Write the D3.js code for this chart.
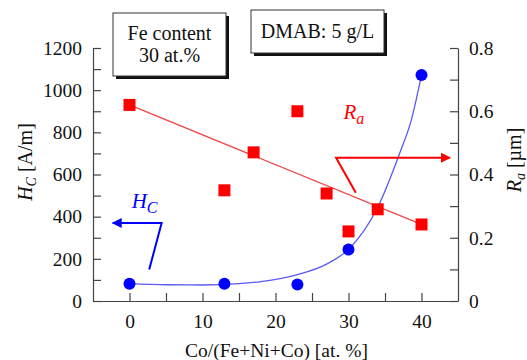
<!DOCTYPE html>
<html>
<head>
<meta charset="utf-8">
<script src="https://cdn.jsdelivr.net/npm/d3@7"></script>
<style>
  body { margin: 0; background: #fff; }
</style>
</head>
<body>
<div id="chart"></div>
<script>
// data
var hcX = [0, 13, 23, 30, 40];
var hcY = [82, 82, 78, 244, 1072];
var raX = [0, 13, 17, 23, 27, 30, 34, 40];
var raY = [0.62, 0.35, 0.47, 0.60, 0.34, 0.22, 0.29, 0.242];
// fitted curves as drawn
var hcFitX = [0, 5, 10, 15, 18, 23, 27, 30, 34, 37, 38.6, 40];
var hcFitY = [82, 77, 76, 82, 92, 125, 175, 245, 445, 700, 858, 1072];
var raFitX = [0, 40];
var raFitY = [0.62, 0.242];
var xTicks = [0, 10, 20, 30, 40];
var yLeftTicks = [0, 200, 400, 600, 800, 1000, 1200];
var yRightTicks = [0, 0.2, 0.4, 0.6, 0.8];

var serif = "'Liberation Serif'";

var svgWidth = 527;
var svgHeight = 360;
var margin = { top: 48, right: 69, bottom: 59, left: 93 };
var width = svgWidth - margin.left - margin.right;
var height = svgHeight - margin.top - margin.bottom;

var svg = d3.select("#chart").append("svg")
  .attr("width", svgWidth)
  .attr("height", svgHeight);

var g = svg.append("g")
  .attr("transform", `translate(${margin.left}, ${margin.top})`);

var x = d3.scaleLinear().domain([-5, 45]).range([0, width]);
var yL = d3.scaleLinear().domain([0, 1200]).range([height, 0]);
var yR = d3.scaleLinear().domain([0, 0.8]).range([height, 0]);

var axisColor = "#444";

// axes with inward ticks
function styleAxis(sel) {
  sel.select(".domain").attr("stroke", axisColor).attr("stroke-width", 1.2);
  sel.selectAll(".tick line").attr("stroke", axisColor).attr("stroke-width", 1.2);
  sel.selectAll(".tick text").style("font-size", "19.5px").attr("fill", "#111");
}

var xAxis = g.append("g")
  .attr("transform", `translate(0, ${height})`)
  .call(d3.axisBottom(x).tickValues(d3.range(-5, 46, 5)).tickSizeInner(-8).tickSizeOuter(0)
    .tickPadding(13).tickFormat(d => xTicks.indexOf(d) >= 0 ? d : ""));
styleAxis(xAxis);
xAxis.selectAll(".tick").filter(d => d === -5 || d === 45).remove();

var leftAxis = g.append("g")
  .call(d3.axisLeft(yL).tickValues(d3.range(0, 1201, 100)).tickSizeInner(-8).tickSizeOuter(0)
    .tickPadding(11).tickFormat(d => yLeftTicks.indexOf(d) >= 0 ? d : ""));
styleAxis(leftAxis);

var rightAxis = g.append("g")
  .attr("transform", `translate(${width}, 0)`)
  .call(d3.axisRight(yR).tickValues(d3.range(0, 9).map(i => i / 10)).tickSizeInner(-8).tickSizeOuter(0)
    .tickPadding(11).tickFormat(d => yRightTicks.some(v => Math.abs(v - d) < 1e-9) ? (d === 0 ? "0" : d3.format(".1f")(d)) : ""));
styleAxis(rightAxis);

// fitted lines
var hcFit = hcFitX.map((d, i) => [d, hcFitY[i]]);
g.append("path")
  .datum(hcFit)
  .attr("fill", "none")
  .attr("stroke", "#5a5af5")
  .attr("stroke-width", 1.3)
  .attr("d", d3.line().x(d => x(d[0])).y(d => yL(d[1])).curve(d3.curveMonotoneX));

var raFit = raFitX.map((d, i) => [d, raFitY[i]]);
g.append("path")
  .datum(raFit)
  .attr("fill", "none")
  .attr("stroke", "#f04545")
  .attr("stroke-width", 1.3)
  .attr("d", d3.line().x(d => x(d[0])).y(d => yR(d[1])));

// markers
g.selectAll("rect.ra")
  .data(raX.map((d, i) => ({ x: d, y: raY[i] })))
  .enter().append("rect")
  .attr("class", "ra")
  .attr("x", d => x(d.x) - 6)
  .attr("y", d => yR(d.y) - 6)
  .attr("width", 12)
  .attr("height", 12)
  .attr("fill", "#ff0000");

g.selectAll("circle.hc")
  .data(hcX.map((d, i) => ({ x: d, y: hcY[i] })))
  .enter().append("circle")
  .attr("class", "hc")
  .attr("cx", d => x(d.x))
  .attr("cy", d => yL(d.y))
  .attr("r", 6)
  .attr("fill", "#0000ff");

// pointer arrows
var defs = svg.append("defs");
[["arrBlue", "#0000ff"], ["arrRed", "#ff0000"]].forEach(function(a) {
  defs.append("marker")
    .attr("id", a[0])
    .attr("viewBox", "0 0 10 10")
    .attr("refX", 9).attr("refY", 5)
    .attr("markerWidth", 12).attr("markerHeight", 10)
    .attr("markerUnits", "userSpaceOnUse")
    .attr("orient", "auto")
    .append("path").attr("d", "M0,0 L10,5 L0,10 Z").attr("fill", a[1]);
});

g.append("path")
  .attr("fill", "none").attr("stroke", "#0000ff").attr("stroke-width", 2)
  .attr("d", d3.line()([[x(2.7), yL(149)], [x(4.4), yL(370)], [x(-2.3), yL(370)]]))
  .attr("marker-end", "url(#arrBlue)");

g.append("path")
  .attr("fill", "none").attr("stroke", "#ff0000").attr("stroke-width", 2)
  .attr("d", d3.line()([[x(31), yR(0.342)], [x(28.3), yR(0.453)], [x(43.9), yR(0.453)]]))
  .attr("marker-end", "url(#arrRed)");

// series labels
var hcLabel = g.append("text")
  .attr("x", x(0.3)).attr("y", yL(442))
  .style("font-size", "21px").style("font-style", "italic").attr("fill", "#0000ff");
hcLabel.append("tspan").text("H");
hcLabel.append("tspan").text("C").attr("dy", 5).style("font-size", "16px");

var raLabel = g.append("text")
  .attr("x", x(29.3)).attr("y", yR(0.575))
  .style("font-size", "21px").style("font-style", "italic").attr("fill", "#ff0000");
raLabel.append("tspan").text("R");
raLabel.append("tspan").text("a").attr("dy", 5).style("font-size", "16px");

// axis titles
svg.append("text")
  .attr("x", margin.left + width / 2 + 1)
  .attr("y", 357)
  .attr("text-anchor", "middle")
  .attr("fill", "#111")
  .style("font-size", "19.5px")
  .text("Co/(Fe+Ni+Co) [at. %]");

var leftTitle = svg.append("text")
  .attr("transform", "translate(32, 162) rotate(-90)")
  .attr("text-anchor", "middle")
  .attr("fill", "#111")
  .style("font-size", "20px");
leftTitle.append("tspan").text("H").style("font-style", "italic");
leftTitle.append("tspan").text("C").style("font-style", "italic").style("font-size", "14px").attr("dy", 4);
leftTitle.append("tspan").text(" [A/m]").attr("dy", -4);

var rightTitle = svg.append("text")
  .attr("transform", "translate(521, 160) rotate(-90)")
  .attr("text-anchor", "middle")
  .attr("fill", "#111")
  .style("font-size", "20px");
rightTitle.append("tspan").text("R").style("font-style", "italic");
rightTitle.append("tspan").text("a").style("font-style", "italic").style("font-size", "14px").attr("dy", 4);
rightTitle.append("tspan").text(" [\u00b5m]").attr("dy", -4);

// text boxes with drop shadow
function box(x0, y0, w, h, lines, baseY) {
  svg.append("rect").attr("x", x0 + 3).attr("y", y0 + 3).attr("width", w).attr("height", h).attr("fill", "#111");
  svg.append("rect").attr("x", x0).attr("y", y0).attr("width", w).attr("height", h)
    .attr("fill", "#fff").attr("stroke", "#333").attr("stroke-width", 1);
  lines.forEach(function(t, i) {
    svg.append("text")
      .attr("x", x0 + w / 2).attr("y", baseY[i])
      .attr("text-anchor", "middle")
      .attr("fill", "#111")
      .style("font-size", "20px")
      .text(t);
  });
}
box(113, 13, 113, 63, ["Fe content", "30 at.%"], [40, 62]);
box(251, 10, 133, 43, ["DMAB: 5 g/L"], [38]);

svg.selectAll("text").style("font-family", serif);
</script>
</body>
</html>
